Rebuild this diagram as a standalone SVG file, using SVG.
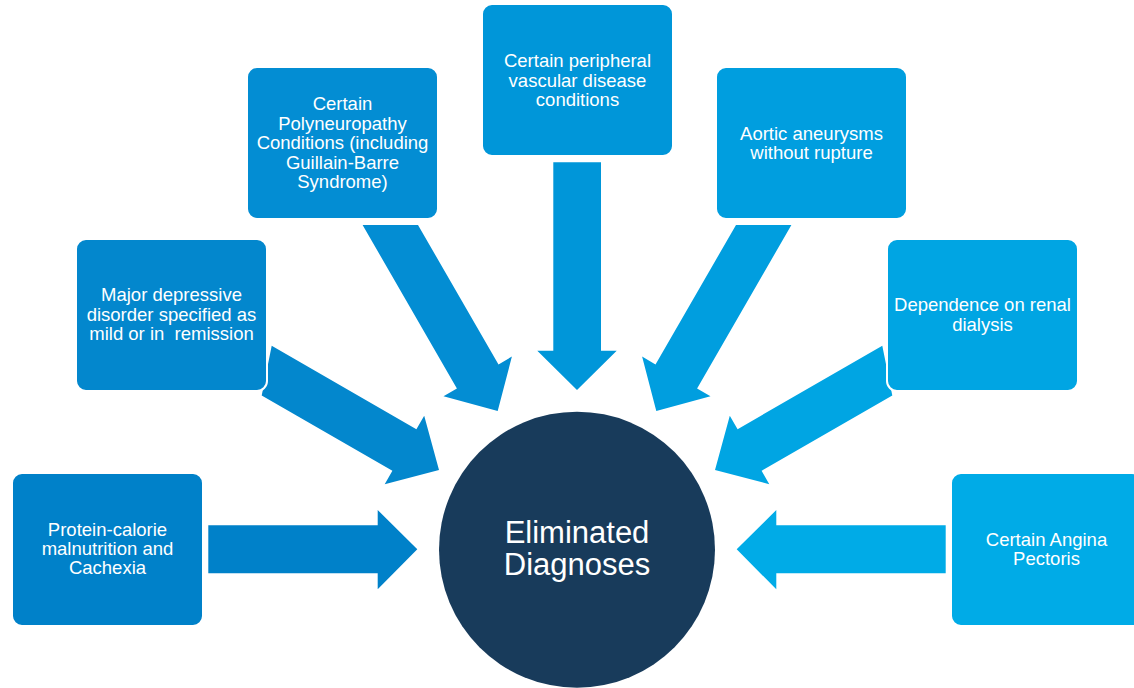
<svg xmlns="http://www.w3.org/2000/svg" width="1134" height="688" viewBox="0 0 1134 688">
  <style>
    .box { stroke: #ffffff; stroke-width: 2; }
    .lbl { font-family: "Liberation Sans", Arial, sans-serif; font-size: 18.5px; fill: #ffffff; text-anchor: middle; }
    .hub { font-family: "Liberation Sans", Arial, sans-serif; font-size: 31px; fill: #ffffff; text-anchor: middle; }
    .c1 { fill: #0081C9; }
    .c2 { fill: #0387CD; }
    .c3 { fill: #038DD3; }
    .c4 { fill: #0096D9; }
    .c5 { fill: #009EDF; }
    .c6 { fill: #00A5E3; }
    .c7 { fill: #00ABE7; }
  </style>
  <rect width="1134" height="688" fill="#ffffff"/>

  <g id="connectors">
    <polygon class="c1" points="208.3,525.3 377.7,525.3 377.7,510 417.3,549.3 377.7,589.3 377.7,573.3 208.3,573.3"/>
    <polygon class="c2" points="271.7,345.7 416.4,429.2 424.2,415.8 439,470 384.7,484.2 392.4,470.8 261.7,395.4"/>
    <polygon class="c3" points="362.6,225 418,225 498.5,364.4 511.9,356.6 497.7,411 443.5,396.2 456.9,388.4"/>
    <polygon class="c4" points="553.3,162.3 601,162.3 601,350.7 616.7,350.7 577,390 537.3,350.7 553.3,350.7"/>
    <polygon class="c5" points="791.4,225 736,225 655.5,364.4 642.1,356.6 656.3,411 710.5,396.2 697.1,388.4"/>
    <polygon class="c6" points="882.3,345.7 737.6,429.2 729.8,415.8 715,470 769.3,484.2 761.6,470.8 892.3,395.4"/>
    <polygon class="c7" points="945.7,525.3 776.3,525.3 776.3,510 736.7,549.3 776.3,589.3 776.3,573.3 945.7,573.3"/>
  </g>

  <g id="node-protein">
    <rect class="box c1" x="12" y="473" width="191" height="153" rx="10"/>
    <text class="lbl" x="107.5" y="535.7">Protein-calorie</text>
    <text class="lbl" x="107.5" y="555">malnutrition and</text>
    <text class="lbl" x="107.5" y="574.3">Cachexia</text>
  </g>

  <g id="node-depressive">
    <rect class="box c2" x="76" y="239" width="191" height="152" rx="10"/>
    <text class="lbl" x="171.5" y="301">Major depressive</text>
    <text class="lbl" x="171.5" y="320.5">disorder specified as</text>
    <text class="lbl" x="171.5" y="340" xml:space="preserve">mild or in  remission</text>
  </g>

  <g id="node-polyneuropathy">
    <rect class="box c3" x="247" y="67" width="191" height="152" rx="10"/>
    <text class="lbl" x="342.5" y="110">Certain</text>
    <text class="lbl" x="342.5" y="129.5">Polyneuropathy</text>
    <text class="lbl" x="342.5" y="149">Conditions (including</text>
    <text class="lbl" x="342.5" y="168.5">Guillain-Barre</text>
    <text class="lbl" x="342.5" y="188">Syndrome)</text>
  </g>

  <g id="node-peripheral">
    <rect class="box c4" x="482" y="4" width="191" height="152" rx="10"/>
    <text class="lbl" x="577.5" y="67.3">Certain peripheral</text>
    <text class="lbl" x="577.5" y="86.7">vascular disease</text>
    <text class="lbl" x="577.5" y="106">conditions</text>
  </g>

  <g id="node-aortic">
    <rect class="box c5" x="716" y="67" width="191" height="152" rx="10"/>
    <text class="lbl" x="811.5" y="139.5">Aortic aneurysms</text>
    <text class="lbl" x="811.5" y="159">without rupture</text>
  </g>

  <g id="node-dialysis">
    <rect class="box c6" x="887" y="239" width="191" height="152" rx="10"/>
    <text class="lbl" x="982.5" y="311">Dependence on renal</text>
    <text class="lbl" x="982.5" y="330.5">dialysis</text>
  </g>

  <g id="node-angina">
    <rect class="box c7" x="951" y="473" width="191" height="153" rx="10"/>
    <text class="lbl" x="1046.5" y="546">Certain Angina</text>
    <text class="lbl" x="1046.5" y="565">Pectoris</text>
  </g>

  <g id="node-hub">
    <circle cx="577" cy="549.7" r="138" fill="#183B5B"/>
    <text class="hub" x="577" y="543">Eliminated</text>
    <text class="hub" x="577" y="575.3">Diagnoses</text>
  </g>
</svg>
